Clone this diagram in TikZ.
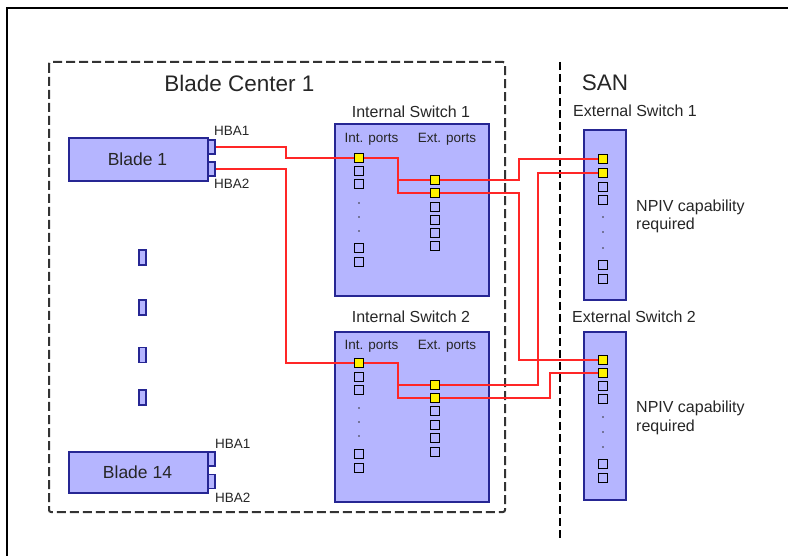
\documentclass[tikz,border=0pt]{standalone}
\usepackage{fontspec}
\setmainfont{Liberation Sans}
\begin{document}
\begin{tikzpicture}[x=1pt,y=-1pt,
  txt/.style={text=black!85, inner sep=0pt, anchor=base},
  boxblue/.style={draw=blue!50!black!85, fill=blue!29!white, line width=2.2pt},
  bladebox/.style={boxblue, minimum width=139pt, minimum height=43pt, inner sep=0pt, anchor=north west},
  hba/.style={draw=blue!50!black!85, fill=blue!29!white, line width=1.7pt, minimum width=7pt, minimum height=14pt, inner sep=0pt},
  port/.style={draw=black, line width=1.2pt, minimum size=9pt, inner sep=0pt},
  yport/.style={port, fill=yellow},
  wire/.style={draw=red!85!white, line width=1.4pt},
  pdot/.style={fill=black!80, circle, inner sep=0pt, minimum size=1.8pt},
  ttl/.style={txt, font=\fontsize{16}{18}\selectfont},
  big/.style={txt, font=\fontsize{22.5}{26}\selectfont},
  small/.style={txt, font=\fontsize{13.5}{15}\selectfont}
]
\useasboundingbox (0,0) rectangle (788,556);

% outer frame (open to the right and bottom)
\draw[black!45, line width=2.6pt] (7,560) -- (7,8) -- (800,8);
\draw[black, line width=1.2pt] (7,560) -- (7,8) -- (800,8);

% Blade Center enclosure and SAN divider
\draw[black!80, line width=2pt, dash pattern=on 9pt off 4pt, rounded corners=2pt]
  (49,62) rectangle (505,512);
\draw[black, line width=2.6pt, dash pattern=on 8pt off 4pt] (560,62) -- (560,540);
\node[big] (bctitle) at (239.5,92) {Blade Center 1};
\node[big] (santitle) at (605,91) {SAN};

% blades
\node[bladebox] (blade1) at (68,137) {};
\node[txt, font=\fontsize{17.5}{20}\selectfont] (b1txt) at (137.5,166) {Blade 1};
\node[hba] (b1h1) at (211.5,147) {};
\node[hba] (b1h2) at (211.5,169) {};
\node[small, anchor=base west] (b1l1) at (214,136) {HBA1};
\node[small, anchor=base west] (b1l2) at (214,189) {HBA2};

\node[bladebox, minimum height=41pt] (blade14) at (68,451) {};
\node[txt, font=\fontsize{17.5}{20}\selectfont] (b14txt) at (137.5,478) {Blade 14};
\node[hba] (b14h1) at (211.5,459) {};
\node[hba] (b14h2) at (211.5,481.5) {};
\node[small, anchor=base west] (b14l1) at (215,448) {HBA1};
\node[small, anchor=base west] (b14l2) at (215,502) {HBA2};

% intermediate blades
\foreach \y [count=\k] in {257.5,307.5,355,397.5}
  \node[hba, minimum width=7pt, minimum height=15pt] (mid\k) at (142.5,\y) {};

% switch boxes
\node[boxblue, minimum width=154pt, minimum height=172pt, inner sep=0pt, anchor=north west] (isw1) at (334,123) {};
\node[boxblue, minimum width=154pt, minimum height=170pt, inner sep=0pt, anchor=north west] (isw2) at (334,331) {};
\node[boxblue, minimum width=42pt, minimum height=170pt, inner sep=0pt, anchor=north west] (esw1) at (583,129) {};
\node[boxblue, minimum width=42pt, minimum height=168pt, inner sep=0pt, anchor=north west] (esw2) at (583,331) {};

\node[ttl] (isw1t) at (411,118) {Internal Switch 1};
\node[ttl] (isw2t) at (411,323) {Internal Switch 2};
\node[ttl] (esw1t) at (635,117) {External Switch 1};
\node[ttl] (esw2t) at (634,323) {External Switch 2};

\node[small] (i1int) at (371.5,143) {Int. ports};
\node[small] (i1ext) at (447,143) {Ext. ports};
\node[small] (i2int) at (371.5,350) {Int. ports};
\node[small] (i2ext) at (447,350) {Ext. ports};

\node[ttl, anchor=base west] (npiv1a) at (636,212) {NPIV capability};
\node[ttl, anchor=base west] (npiv1b) at (636,230) {required};
\node[ttl, anchor=base west] (npiv2a) at (636,413) {NPIV capability};
\node[ttl, anchor=base west] (npiv2b) at (636,431) {required};

% ports: internal switch 1
\node[yport] (i1p1) at (359,158) {};
\foreach \y [count=\k from 2] in {171,184,248,262} \node[port] (i1p\k) at (359,\y) {};
\foreach \y in {203,217,231} \node[pdot] at (359,\y) {};
\node[yport] (i1e1) at (435,180) {};
\node[yport] (i1e2) at (435,193) {};
\foreach \y [count=\k from 3] in {207,220,233,246} \node[port] (i1e\k) at (435,\y) {};

% ports: internal switch 2
\node[yport] (i2p1) at (359,363) {};
\foreach \y [count=\k from 2] in {377,390,454,468} \node[port] (i2p\k) at (359,\y) {};
\foreach \y in {408,422,436} \node[pdot] at (359,\y) {};
\node[yport] (i2e1) at (435,385) {};
\node[yport] (i2e2) at (435,398) {};
\foreach \y [count=\k from 3] in {411,425,438,452} \node[port] (i2e\k) at (435,\y) {};

% ports: external switches
\node[yport] (e1p1) at (603,159) {};
\node[yport] (e1p2) at (603,173) {};
\foreach \y [count=\k from 3] in {187,200,265,279} \node[port] (e1p\k) at (603,\y) {};
\foreach \y in {217,232,248} \node[pdot] at (603,\y) {};
\node[yport] (e2p1) at (603,360) {};
\node[yport] (e2p2) at (603,373) {};
\foreach \y [count=\k from 3] in {386,399,464,478} \node[port] (e2p\k) at (603,\y) {};
\foreach \y in {417,432,447} \node[pdot] at (603,\y) {};

% junction points inside the internal switches
\coordinate (j1) at (398,158);
\coordinate (j2) at (398,363);

% cabling: blades to internal switches
\draw[wire] (b1h1.east) -- ++(70,0) |- (i1p1.west);
\draw[wire] (b1h2.east) -- ++(70,0) |- (i2p1.west);
% inside the internal switches
\draw[wire] (i1p1.east) -- (j1) |- (i1e2.west);
\draw[wire] (j1) |- (i1e1.west);
\draw[wire] (i2p1.east) -- (j2) |- (i2e2.west);
\draw[wire] (j2) |- (i2e1.west);
% internal switches to external switches
\draw[wire] (i1e1.east) -- ++(79,0) |- (e1p1.west);
\draw[wire] (i1e2.east) -- ++(79,0) |- (e2p1.west);
\draw[wire] (i2e1.east) -- ++(98,0) |- (e1p2.west);
\draw[wire] (i2e2.east) -- ++(110,0) |- (e2p2.west);
\end{tikzpicture}
\end{document}
